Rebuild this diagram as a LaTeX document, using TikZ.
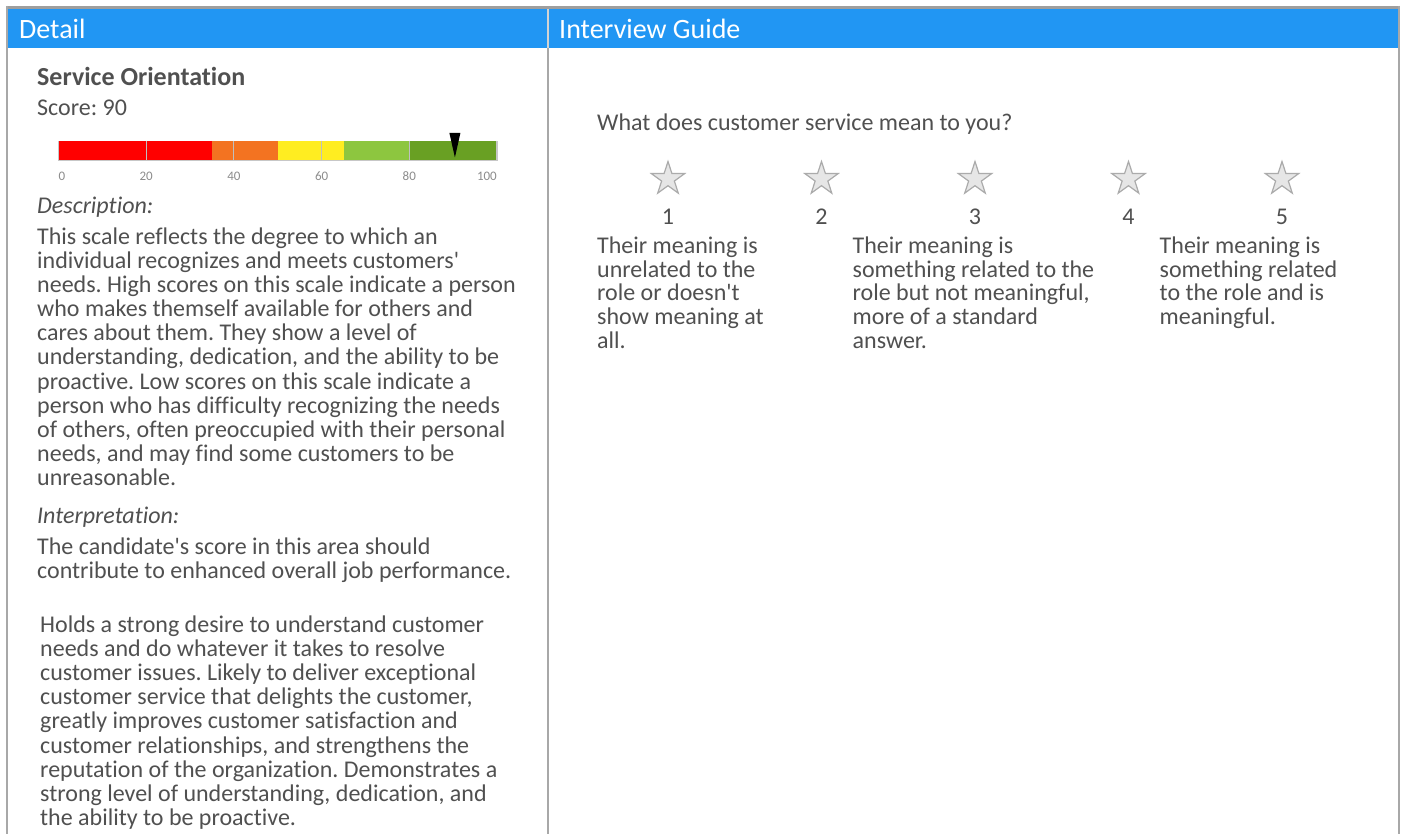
\documentclass[tikz,border=0pt]{standalone}
\usepackage{fontspec}
\setmainfont{Carlito}[Ligatures={TeXOff,CommonOff}]
\frenchspacing
\usetikzlibrary{shapes.geometric}
\definecolor{hdrblue}{HTML}{2196F3}
\definecolor{txtgray}{HTML}{505050}
\definecolor{rulegray}{HTML}{A8A8A8}
\definecolor{topgray}{HTML}{9E9E9E}
\definecolor{tickgray}{HTML}{8C8C8C}
\definecolor{segred}{HTML}{FF0000}
\definecolor{segorange}{HTML}{F37321}
\definecolor{segyellow}{HTML}{FFED21}
\definecolor{seglime}{HTML}{8DC63F}
\definecolor{seggreen}{HTML}{69A023}
\definecolor{starfill}{HTML}{E6E6E6}
\definecolor{staredge}{HTML}{ABABAB}
\def\barx{58.5}
\def\barunit{4.385}
\def\bartop{141}
\def\barbot{160.5}
\def\starx{668}
\def\stargap{153.5}
\newcommand{\seg}[3]{
    \fill[#3] (\barx+#1*\barunit,\bartop) rectangle (\barx+#2*\barunit,\barbot);
}
\newcommand{\para}[5][24.1]{
    \node[txt, anchor=base west] (#2) at (#3,#4)
    {\fontsize{24}{#1}\selectfont\begin{tabular}[t]{@{}l@{}}#5\end{tabular}};
}

\begin{document}
\begin{tikzpicture}[x=1pt, y=-1pt,
    txt/.style={inner sep=0, text=txtgray, font=\fontsize{24}{24}\selectfont},
    hdr/.style={inner sep=0, text=white, font=\fontsize{28}{28}\selectfont},
    tick/.style={inner sep=0, text=tickgray, font=\fontsize{13}{13}\selectfont},
    starmark/.style={star, star points=5, star point ratio=2.618, minimum size=35,
        inner sep=0, fill=starfill, draw=staredge, line width=1.2}]
    \useasboundingbox (0,0) rectangle (1403,834);
    \fill[white] (0,0) rectangle (1403,834);
    % frame and headers
    \fill[topgray] (6.5,6) rectangle (1400,9);
    \fill[hdrblue] (8,9) rectangle (1398,48);
    \draw[rulegray, line width=1.5] (7.2,6) -- (7.2,834);
    \draw[rulegray, line width=2] (1399,6) -- (1399,834);
    \draw[rulegray!50, line width=1.5] (548,9) -- (548,48);
    \draw[rulegray, line width=2] (548,48) -- (548,834);
    \node[hdr, anchor=base west] (detail) at (19,39) {Detail};
    \node[hdr, anchor=base west] (guide) at (559,39) {Interview Guide};
    % detail column
    \node[txt, anchor=base west, font=\fontsize{26}{26}\bfseries] (title) at (37,86) {Service Orientation};
    \node[txt, anchor=base west] (score) at (37,116) {Score: 90};
    \seg{0}{35}{segred}
    \seg{35}{50}{segorange}
    \seg{50}{65}{segyellow}
    \seg{65}{80}{seglime}
    \seg{80}{100}{seggreen}
    \foreach \t in {20,40,60,80}
        \draw[black!25, line width=1] (\barx+\t*\barunit,\bartop) -- (\barx+\t*\barunit,\barbot);
    \draw[black!22, line width=1.2] (\barx,\bartop) -- (\barx,\barbot) -- (\barx+100*\barunit,\barbot) -- (\barx+100*\barunit,\bartop);
    \fill[black] (\barx+90.4*\barunit-5.5,133) -- (\barx+90.4*\barunit+5.5,133) -- (\barx+90.4*\barunit,157.5) -- cycle;
    \node[tick, anchor=base west] (t0) at (\barx,181) {0};
    \foreach \t in {20,40,60,80}
        \node[tick, anchor=base] (t\t) at (\barx+\t*\barunit,181) {\t};
    \node[tick, anchor=base east] (t100) at (\barx+100*\barunit,181) {100};
    \node[txt, anchor=base west, font=\fontsize{24}{24}\itshape] (desclabel) at (37,214) {Description:};
    \para{desc}{37}{244.5}{This scale reflects the degree to which an\\
        individual recognizes and meets customers'\\
        needs. High scores on this scale indicate a person\\
        who makes themself available for others and\\
        cares about them. They show a level of\\
        understanding, dedication, and the ability to be\\
        proactive. Low scores on this scale indicate a\\
        person who has difficulty recognizing the needs\\
        of others, often preoccupied with their personal\\
        needs, and may find some customers to be\\
        unreasonable.}
    \node[txt, anchor=base west, font=\fontsize{24}{24}\itshape] (interplabel) at (37,523) {Interpretation:};
    \para{interp}{37}{554.5}{The candidate's score in this area should\\
        contribute to enhanced overall job performance.}
    \para[24.2]{holds}{40}{632}{Holds a strong desire to understand customer\\
        needs and do whatever it takes to resolve\\
        customer issues. Likely to deliver exceptional\\
        customer service that delights the customer,\\
        greatly improves customer satisfaction and\\
        customer relationships, and strengthens the\\
        reputation of the organization. Demonstrates a\\
        strong level of understanding, dedication, and\\
        the ability to be proactive.}
    % interview guide column
    \node[txt, anchor=base west] (question) at (597,131) {What does customer service mean to you?};
    \foreach \i in {1,...,5} {
        \node[starmark] (s\i) at (\starx+\i*\stargap-\stargap,179) {};
        \node[txt, anchor=base] (n\i) at (\starx+\i*\stargap-\stargap,225) {\i};
    }
    \para[23.6]{low}{597}{253.5}{Their meaning is\\
        unrelated to the\\
        role or doesn't\\
        show meaning at\\
        all.}
    \para[23.6]{mid}{852.5}{253.5}{Their meaning is\\
        something related to the\\
        role but not meaningful,\\
        more of a standard\\
        answer.}
    \para[23.6]{high}{1159.5}{253.5}{Their meaning is\\
        something related\\
        to the role and is\\
        meaningful.}
\end{tikzpicture}
\end{document}
